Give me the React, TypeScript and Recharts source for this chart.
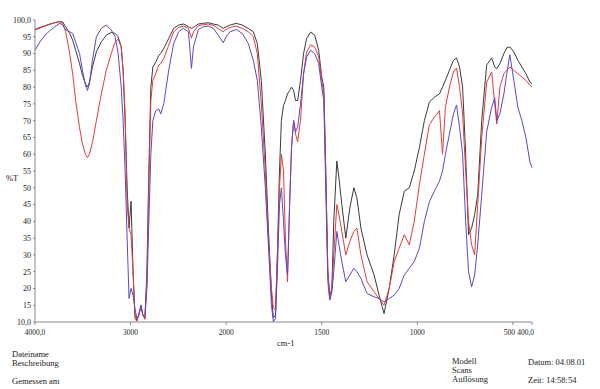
import { LineChart, Line, XAxis, YAxis } from 'recharts';

// wavenumbers (cm-1)
const wavenumbers = [
  4000, 3948, 3896, 3845, 3793, 3741, 3710, 3679, 3637, 3606, 3575, 3534,
  3503, 3472, 3451, 3430, 3399, 3358, 3306, 3254, 3202, 3161, 3130, 3098,
  3078, 3057, 3036, 3016, 2995, 2974, 2954, 2933, 2912, 2891, 2871, 2850,
  2829, 2809, 2788, 2767, 2736, 2705, 2684, 2653, 2601, 2549, 2497, 2446,
  2394, 2363, 2342, 2290, 2238, 2187, 2135, 2083, 2031, 2000, 1979, 1947,
  1916, 1884, 1858, 1837, 1816, 1795, 1779, 1763, 1753, 1742, 1732, 1721,
  1711, 1700, 1690, 1679, 1668, 1658, 1647, 1637, 1626, 1611, 1595, 1579,
  1558, 1537, 1516, 1500, 1489, 1479, 1468, 1458, 1447, 1437, 1421, 1410,
  1395, 1374, 1353, 1332, 1316, 1295, 1263, 1226, 1200, 1174, 1147, 1121,
  1095, 1068, 1042, 1016, 989, 963, 937, 911, 884, 868, 853, 832,
  811, 795, 779, 763, 747, 732, 716, 700, 684, 663, 637, 611,
  595, 584, 568, 547, 532, 516, 495, 474, 453, 432, 411, 400,
];

// %T, black scan
const blackT = [
  97.2, 97.8, 98.3, 98.8, 99.2, 99.5, 99.4, 98.0, 96.0, 94.0, 91.0, 87.0,
  83.5, 81.0, 80.0, 81.5, 86.0, 90.5, 93.5, 95.5, 96.3, 96.0, 95.0, 92.0,
  85.0, 70, 50, 38, 46, 25, 12, 10.5, 12.5, 15, 12, 11,
  25, 55, 80, 86, 87.5, 89.5, 90.0, 91.5, 94.5, 97.5, 98.5, 98.8,
  98.0, 97.5, 97.8, 98.8, 99.0, 99.2, 98.8, 98.5, 97.5, 98.0, 98.5, 99.0,
  98.5, 97.5, 96.5, 93, 82, 60, 38, 18, 11.3, 12, 30, 55,
  70, 74.5, 76, 78, 79, 80, 79, 76, 76, 82, 90, 94.5,
  96.4, 95.5, 91, 83, 80, 55, 25, 17.5, 20, 40, 58, 53,
  45, 35, 44, 50, 47, 38, 30, 24, 18, 12.5, 20, 30,
  42, 49, 50, 55, 62, 70, 75.5, 77, 78, 80, 82, 85,
  88, 88.7, 86, 80, 60, 36, 38, 42, 48, 70, 86.6, 88.7,
  86, 85.5, 87, 90, 91.7, 92, 90.5, 88, 86, 84, 81.5, 81,
];

// %T, red scan
const redT = [
  97.0, 97.6, 98.2, 98.7, 99.2, 99.5, 99.0, 96.5, 90.0, 84.0, 76.0, 68.0,
  63.0, 60.0, 59.0, 60.0, 63.5, 70.0, 78.0, 85.0, 90.0, 93.5, 94.3, 92.0,
  85.0, 72, 45, 38, 36, 25, 11, 10.2, 12.5, 14.5, 12, 10.8,
  22, 50, 76, 82, 84, 86.6, 87, 88.5, 92.5, 96.5, 97.8, 98.2,
  97.5, 94.6, 96.5, 98.3, 98.6, 98.8, 98.4, 97.5, 96.5, 97.2, 97.8, 98.2,
  97.5, 96.5, 95, 90, 75, 55, 35, 20, 14.3, 13.5, 30, 50,
  60, 55, 35, 22, 45, 62, 70, 66, 63.7, 70, 84, 90.5,
  92.6, 92, 89, 82, 78, 55, 25, 17, 20, 30, 45, 42,
  37, 30, 34, 37, 38, 30, 22, 19, 17, 15, 20, 28,
  32, 36, 33, 40, 51, 60, 68.8, 71, 73, 60, 74, 80,
  84.5, 85.7, 80, 72, 55, 40, 33, 30, 45, 65, 81.5, 84.5,
  75, 69, 80, 84, 85, 86, 85, 84, 83, 82, 80.6, 80,
];

// %T, blue scan
const blueT = [
  91.0, 93.5, 95.5, 96.8, 98.0, 99.0, 98.5, 97.0, 96.5, 96.0, 93.5, 90.0,
  85.0, 80.5, 79.0, 81.0, 88.0, 95.0, 97.5, 98.5, 97.0, 95.0, 90.0, 80.0,
  70.0, 55, 35, 17, 20, 18, 14, 11, 12, 15, 12, 11.5,
  20, 40, 60, 70, 73, 73.5, 72, 75, 85, 93, 96.5, 97.5,
  96.5, 85.6, 92, 97.2, 98, 98.2, 97.5, 95.5, 93.2, 95, 96.5, 97.2,
  96.0, 93, 88, 82, 68, 50, 33, 15, 10.1, 11, 25, 45,
  50, 40, 30, 24, 45, 62, 70, 66.7, 68, 75, 84, 89,
  91, 90, 87, 80, 76, 50, 22, 16.5, 19, 25, 37, 33,
  28, 22, 24, 26, 25, 23, 18.5, 17.5, 17, 16, 17, 18,
  20, 24, 26, 28, 32, 40, 45.8, 49, 52, 55, 60, 66,
  72, 74.7, 68, 60, 40, 25, 20.5, 24, 33, 48, 66.7, 74,
  76.8, 70, 72, 78, 84, 89.6, 82, 74, 70, 65, 57.7, 56,
];

const xTickWn = [4000, 3000, 2000, 1500, 1000, 500, 400];
const xTickText = ['4000,0', '3000', '2000', '1500', '1000', '500', '400,0'];
const yTicks = [10, 15, 20, 25, 30, 35, 40, 45, 50, 55, 60, 65, 70, 75, 80, 85, 90, 95, 100];

// axis is expanded 2x below 2000 cm-1
const axisPos = (wn: number) => (wn >= 2000 ? 4000 - wn : 2000 + (2000 - wn) * 2);

const data = wavenumbers.map((wn, i) => ({ wn, black: blackT[i], red: redT[i], blue: blueT[i] }));

const serif = '"Liberation Serif", "DejaVu Serif", serif';

const XTick = (props: any) => {
  const { x, y, payload } = props;
  const idx = xTickWn.findIndex(w => axisPos(w) === payload.value);
  const n = xTickWn.length;
  // last two labels sit tight together, as in the original printout
  let tx = x;
  let anchor = 'middle';
  if (idx === n - 1) { tx = x + 2; anchor = 'end'; }
  if (idx === n - 2) { tx = x + 2; anchor = 'end'; }
  return (
    <text x={tx} y={y + 8} textAnchor={anchor} fontSize={7.5} fontFamily={serif} fill="#222">
      {xTickText[idx]}
    </text>
  );
};

const label = (text: string, left: number, top: number) => (
  <div style={{ position: 'absolute', left, top, fontSize: 8.5, lineHeight: '8px', fontFamily: serif, color: '#222', whiteSpace: 'nowrap' }}>
    {text}
  </div>
);

export default function App() {
  return (
    <div style={{ position: 'absolute', left: 0, top: 0, width: 600, height: 389, background: '#fff' }}>
      <LineChart width={600} height={389} data={data} margin={{ top: 20, right: 68, bottom: 47, left: 0 }}>
        <XAxis
          type="number"
          dataKey={(d: any) => axisPos(d.wn)}
          domain={[0, 5200]}
          ticks={xTickWn.map(axisPos)}
          tick={<XTick />}
          tickSize={3}
          height={20}
          stroke="#888"
          interval={0}
        />
        <YAxis
          type="number"
          domain={[10, 100]}
          ticks={yTicks}
          width={35}
          tickSize={2}
          stroke="#888"
          interval={0}
          tick={{ fontSize: 8, fontFamily: serif, fill: '#222' }}
          tickFormatter={(v: number) => (v === 10 ? '10,0' : v === 100 ? '100,0' : String(v))}
        />
        <Line type="linear" dataKey="black" stroke="#3a3a3a" strokeWidth={1} dot={false} isAnimationActive={false} />
        <Line type="linear" dataKey="red" stroke="#e83a3a" strokeWidth={1} dot={false} isAnimationActive={false} />
        <Line type="linear" dataKey="blue" stroke="#5a48c8" strokeWidth={1} dot={false} isAnimationActive={false} />
      </LineChart>
      {label('%T', 6, 174)}
      {label('cm-1', 277, 339)}
      {label('Dateiname', 12, 350)}
      {label('Beschreibung', 12, 359)}
      {label('Gemessen am', 12, 377)}
      {label('Modell', 452, 357)}
      {label('Scans', 452, 366)}
      {label('Auflösung', 452, 375)}
      {label('Datum: 04.08.01', 528, 358)}
      {label('Zeit: 14:58:54', 528, 376)}
    </div>
  );
}
